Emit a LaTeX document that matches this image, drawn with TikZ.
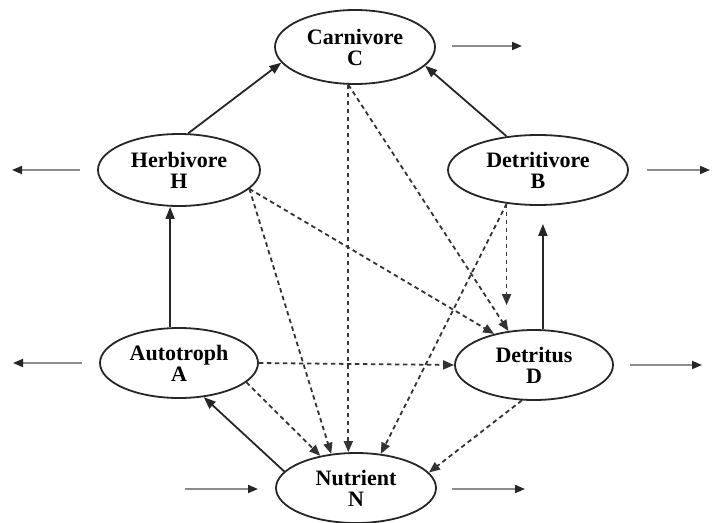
\documentclass[tikz,border=0pt]{standalone}
\usepackage{fontspec}
\setmainfont{Liberation Serif}
\usetikzlibrary{shapes.geometric,arrows.meta}
\begin{document}
\begin{tikzpicture}[x=1pt,y=-1pt,
  compartment/.style={ellipse,draw=black!85,line width=1.8pt,inner sep=0pt,
    align=center,font=\fontsize{22}{21}\selectfont\bfseries},
  flow/.style={draw=black!85,line width=1.8pt,
    -{Triangle[length=12pt,width=9pt]}},
  loss/.style={draw=black!80,line width=1.8pt,dash pattern=on 4.5pt off 3.5pt,
    -{Triangle[length=11pt,width=9pt]}},
  ext/.style={draw=black!45,line width=1.8pt,
    -{Triangle[length=10pt,width=8pt,black!85]}}]
\useasboundingbox (0,0) rectangle (712,522);

% compartments
\node[compartment,minimum width=160pt,minimum height=74pt] (C) at (355,47) {Carnivore\\C};
\node[compartment,minimum width=162pt,minimum height=72pt] (H) at (179,170) {Herbivore\\H};
\node[compartment,minimum width=180pt,minimum height=70pt] (B) at (538,170) {Detritivore\\B};
\node[compartment,minimum width=158pt,minimum height=70pt] (A) at (179,363) {Autotroph\\A};
\node[compartment,minimum width=158pt,minimum height=70pt] (D) at (534,365) {Detritus\\D};
\node[compartment,minimum width=160pt,minimum height=70pt] (N) at (356,488) {Nutrient\\N};

% end points of the exchanges with the outside
\coordinate (Cout0) at (452,46);  \coordinate (Cout1) at (522,46);
\coordinate (Hout0) at (80,170);  \coordinate (Hout1) at (12,170);
\coordinate (Bout0) at (647,170); \coordinate (Bout1) at (710,170);
\coordinate (Aout0) at (82,363);  \coordinate (Aout1) at (13,363);
\coordinate (Dout0) at (630,365); \coordinate (Dout1) at (702,365);
\coordinate (Nin0) at (185,489);  \coordinate (Nin1) at (258,489);
\coordinate (Nout0) at (452,489); \coordinate (Nout1) at (525,489);

% feeding flows
\draw[flow] (H.76) -- (C.192);
\draw[flow] (B.133) -- (C.345);
\draw[flow] (A.104) -- (A.104 |- H.south);
\draw[flow,shorten >=18pt] (D.76) -- (D.76 |- B.south);
\draw[flow] (N.167) -- (A.306);

% losses to detritus and nutrient pools
\draw[loss] (C.260) -- (C.260 |- N.north);
\draw[loss] (C.260) -- (D.127);
\draw[loss] (H.345) -- (N.126);
\draw[loss] (H.345) -- (D.142);
\draw[loss,shorten >=24pt] (B.227) -- (B.227 |- D.north);
\draw[loss] (B.227) -- (N.54);
\draw[loss] (A.east) -- (D.west);
\draw[loss] (A.344) -- (N.138);
\draw[loss] (D.251) -- (N.12);

% exchanges with the outside
\draw[ext] (Cout0) -- (Cout1);
\draw[ext] (Hout0) -- (Hout1);
\draw[ext] (Bout0) -- (Bout1);
\draw[ext] (Aout0) -- (Aout1);
\draw[ext] (Dout0) -- (Dout1);
\draw[ext] (Nin0) -- (Nin1);
\draw[ext] (Nout0) -- (Nout1);
\end{tikzpicture}
\end{document}
